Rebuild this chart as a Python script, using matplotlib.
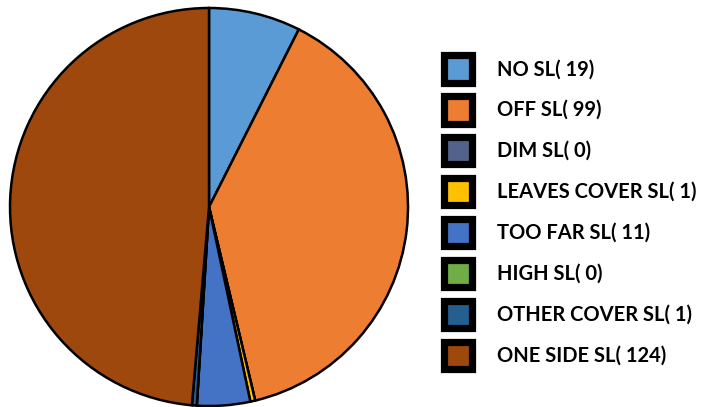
import matplotlib.pyplot as plt
import matplotlib.patches as mpatches

# categories and counts, in the order they go round the pie (clockwise from top)
labels = ["NO SL", "OFF SL", "DIM SL", "LEAVES COVER SL", "TOO FAR SL",
          "HIGH SL", "OTHER COVER SL", "ONE SIDE SL"]
counts = [19, 99, 0, 1, 11, 0, 1, 124]
colors = ["#5B9BD5", "#ED7D31", "#53628A", "#FFC000", "#4472C4",
          "#70AD47", "#255E91", "#9E480E"]

fig = plt.figure(figsize=(7.01, 4.07), dpi=100)
ax = fig.add_axes([0.01427, 0.00246, 0.5678, 0.9779])

ax.pie(counts, colors=colors, startangle=90, counterclock=False,
       wedgeprops=dict(edgecolor="black", linewidth=1.8))
ax.set_xlim(-1, 1)
ax.set_ylim(-1, 1)

handles = [mpatches.Patch(facecolor=c, edgecolor="black", linewidth=5.2) for c in colors]
legend_labels = [f"{l}( {n})" for l, n in zip(labels, counts)]
fig.legend(handles, legend_labels, loc="center left",
           bbox_to_anchor=(444 / 701, 0.479), frameon=False,
           prop=dict(family="Lato", weight="bold", size=14.5),
           handlelength=1.38, handleheight=1.745, handletextpad=1.27,
           labelspacing=0.655, borderpad=0, borderaxespad=0)

plt.savefig("out.png", dpi=100)
